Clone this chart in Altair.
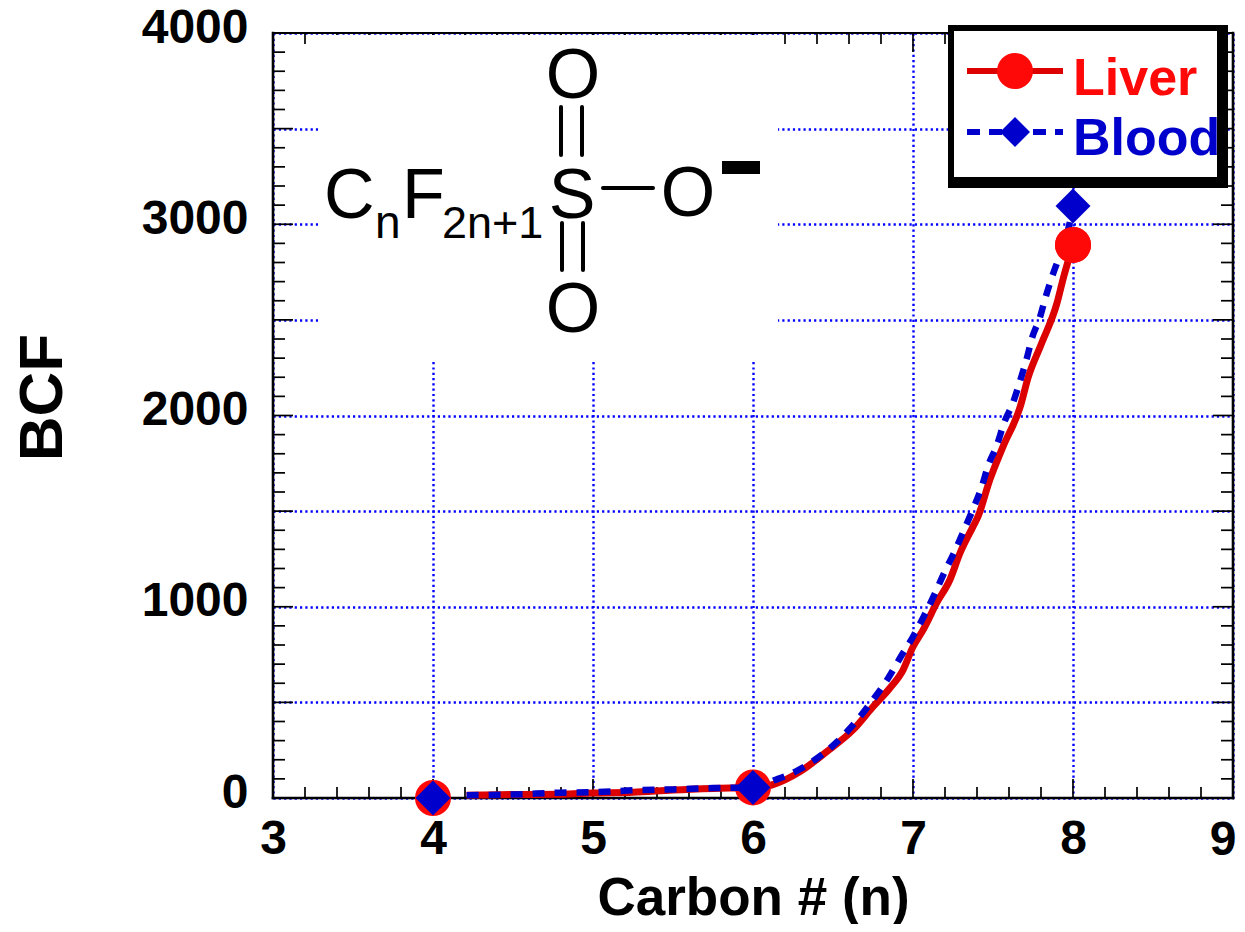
import altair as alt
import pandas as pd

FONT = "Liberation Sans"
OX, OY = 273, 33   # plot-area origin on the page

# ---- data ----
liver_x = [4.21, 4.5, 4.8, 5.0, 5.25, 5.5, 5.75, 6.0, 6.117, 6.294, 6.46, 6.625, 6.75, 6.856, 6.9375, 7.0,
           7.0625, 7.148, 7.23, 7.294, 7.375, 7.406, 7.48, 7.5625, 7.67, 7.72, 7.8, 7.9, 7.94, 8.0]
liver_y = [15, 18, 20, 26, 30, 42, 50, 55, 68, 138, 242, 356, 477, 575, 669, 791,
           878, 1020, 1140, 1281, 1419, 1471, 1663, 1837, 2046, 2200, 2370, 2588, 2720, 2892]
blood_x = [4.21, 4.5, 4.8, 5.0, 5.25, 5.5, 5.75, 6.0, 6.1375, 6.2625, 6.394, 6.525, 6.6375, 6.744, 6.8375, 6.919,
           7.0, 7.069, 7.136, 7.194, 7.26, 7.319, 7.375, 7.43, 7.469, 7.525, 7.569, 7.625, 7.669, 7.71,
           7.744, 7.794, 7.831, 7.875, 7.923, 7.969, 8.0]
blood_y = [15, 18, 28, 30, 40, 45, 52, 55, 94, 137, 204, 293, 394, 507, 617, 732,
           843, 952, 1067, 1176, 1288, 1401, 1511, 1628, 1736, 1846, 1961, 2067, 2180, 2295,
           2405, 2515, 2625, 2740, 2850, 2970, 3095]
point_x = [4, 6, 8]
liver_points = [0, 55, 2892]
blood_points = [0, 55, 3095]

x_ticks = [3, 4, 5, 6, 7, 8, 9]
y_grid = [0, 500, 1000, 1500, 2000, 2500, 3000, 3500, 4000]
x_minor = [3 + i * 0.2 for i in range(31) if i % 5 != 0]
y_minor = [i * 100 for i in range(41) if i % 5 != 0]

RED_LINE, RED_MARK, BLUE = "#dd0000", "#ff0808", "#0000cc"

xs = alt.Scale(domain=[3, 9], nice=False, zero=False)
ys = alt.Scale(domain=[0, 4000], nice=False)
X = lambda f: alt.X(f, type="quantitative", scale=xs, axis=None)
Y = lambda f: alt.Y(f, type="quantitative", scale=ys, axis=None)


def px(v):
    return alt.value(v - OX)


def py(v):
    return alt.value(v - OY)


# base layer carries the axes and the dotted grid
base = alt.Chart(pd.DataFrame({"x": x_ticks[:1], "y": y_grid[:1]})).mark_point(opacity=0).encode(
    x=alt.X("x:Q", scale=xs, title="Carbon # (n)", axis=alt.Axis(
        values=x_ticks, format="d", labelExpr="datum.value == 9 ? '' : datum.label",
        grid=True, gridColor="#0000ff", gridDash=[2.2, 3.1], gridWidth=2.4,
        ticks=False, tickSize=0, domain=False, labelFont=FONT, labelFontWeight="bold", labelFontSize=48,
        labelColor="black", labelPadding=17, labelFlush=False, labelBound=False, labelOverlap=False,
        titleFont=FONT, titleFontWeight="bold", titleFontSize=53, titleColor="black",
        titleX=480, titleY=881 - 765, titleBaseline="alphabetic", titleAnchor="middle")),
    y=alt.Y("y:Q", scale=ys, title="BCF", axis=alt.Axis(
        values=y_grid, labelExpr="datum.value % 1000 == 0 ? datum.label : ''", format="d",
        grid=True, gridColor="#0000ff", gridDash=[2.2, 3.1], gridWidth=2.4,
        ticks=False, tickSize=0, domain=False, labelFont=FONT, labelFontWeight="bold", labelFontSize=48,
        labelColor="black", labelPadding=25, labelOffset=-5, labelFlush=False, labelBound=False,
        labelOverlap=False, titleFont=FONT, titleFontWeight="bold", titleFontSize=62, titleColor="black",
        titleX=61 - OX, titleY=397 - OY, titleBaseline="alphabetic", titleAnchor="middle", titleAngle=270)),
)


def hticks(values, length, side):
    rows = []
    for v in values:
        if side == "left":
            rows.append({"a": 3.0, "b": 3.0 + length / 160, "y": v})
        else:
            rows.append({"a": 9.0 - length / 160, "b": 9.0, "y": v})
    return alt.Chart(pd.DataFrame(rows)).mark_rule(color="black", strokeWidth=1.7).encode(
        x=X("a"), x2="b", y=Y("y"))


def vticks(values, length, side):
    rows = []
    for v in values:
        if side == "bottom":
            rows.append({"x": v, "a": 0.0, "b": length / 0.19125})
        else:
            rows.append({"x": v, "a": 4000 - length / 0.19125, "b": 4000.0})
    return alt.Chart(pd.DataFrame(rows)).mark_rule(color="black", strokeWidth=1.7).encode(
        x=X("x"), y=Y("a"), y2="b")


ticks = [
    hticks(y_minor, 12, "left"), hticks(y_grid[1:-1], 20, "left"),
    hticks(y_minor, 12, "right"), hticks(y_grid[1:-1], 20, "right"),
    vticks(x_minor, 11, "bottom"), vticks(x_ticks[1:-1], 19, "bottom"),
    vticks(x_minor, 11, "top"), vticks(x_ticks[1:-1], 19, "top"),
]

one = pd.DataFrame({"k": [0]})


def rect(x0, x1, y0, y1, color):
    return alt.Chart(one).mark_rect(color=color).encode(x=px(x0), x2=px(x1), y=py(y0), y2=py(y1))


def seg(x0, x1, y0, y1, color="black", w=4, dash=None, cap="round"):
    kw = {"strokeDash": dash} if dash else {}
    return alt.Chart(one).mark_rule(color=color, strokeWidth=w, strokeCap=cap, **kw).encode(
        x=px(x0), x2=px(x1), y=py(y0), y2=py(y1))


def label(s, x, y, size, color="black", weight="normal", align="left"):
    return alt.Chart(pd.DataFrame({"t": [s]})).mark_text(
        font=FONT, fontSize=size, color=color, fontWeight=weight, align=align, baseline="alphabetic"
    ).encode(x=px(x), y=py(y), text="t:N")


mask = rect(318, 778, 35, 360, "white")

frame = [
    seg(273, 1233, 33, 33, w=2, cap="square"), seg(273, 1233, 798, 798, w=2.6, cap="square"),
    seg(273, 273, 33, 798, w=2.6, cap="square"), seg(1233, 1233, 33, 798, w=2.6, cap="square"),
]

last_tick = label("9", 1223, 855, 48, weight="bold", align="center")

formula = [
    label("C", 324, 218, 70), label("n", 375, 238, 46), label("F", 402, 218, 70), label("2n+1", 442, 238, 45),
    label("S", 572, 218, 70, align="center"), label("O", 573, 98, 70, align="center"),
    label("O", 573, 332, 70, align="center"), label("O", 688, 216, 70, align="center"),
    seg(561, 561, 107, 155), seg(582, 582, 107, 155), seg(562, 562, 223, 270), seg(583, 583, 223, 270),
    seg(603, 653, 188, 188), rect(722, 760, 161, 174, "black"),
]

liver = pd.DataFrame({"x": liver_x, "y": liver_y})
blood = pd.DataFrame({"x": blood_x, "y": blood_y})
lp = pd.DataFrame({"x": point_x, "y": liver_points})
bp = pd.DataFrame({"x": point_x, "y": blood_points})

series = [
    alt.Chart(liver).mark_line(color=RED_LINE, strokeWidth=7, interpolate="monotone").encode(x=X("x"), y=Y("y")),
    alt.Chart(lp).mark_point(shape="circle", filled=True, size=1296, color=RED_MARK, opacity=1).encode(x=X("x"), y=Y("y")),
    alt.Chart(blood).mark_line(color=BLUE, strokeWidth=6.5, strokeDash=[12, 10], interpolate="monotone").encode(x=X("x"), y=Y("y")),
    alt.Chart(bp).mark_point(shape="diamond", filled=True, size=1225, color=BLUE, opacity=1).encode(x=X("x"), y=Y("y")),
    alt.Chart(lp.tail(1)).mark_point(shape="circle", filled=True, size=1296, color=RED_MARK, opacity=1).encode(x=X("x"), y=Y("y")),
]

legend = [
    rect(948, 1228, 25, 188, "black"), rect(954, 1217, 31, 177, "white"),
    seg(967, 1063, 71, 71, RED_LINE, 6, cap="butt"),
    alt.Chart(one).mark_point(shape="circle", filled=True, size=1296, color=RED_MARK, opacity=1).encode(x=px(1015), y=py(71)),
    label("Liver", 1073, 95, 52, "#ff0808", "bold"),
    seg(967, 1063, 132, 132, BLUE, 6, dash=[13, 9], cap="butt"),
    alt.Chart(one).mark_point(shape="diamond", filled=True, size=900, color=BLUE, opacity=1).encode(x=px(1015), y=py(132)),
    label("Blood", 1073, 155, 52, BLUE, "bold"),
    rect(1217, 1228, 25, 188, "black"),
]

chart = alt.layer(base, *ticks, mask, *frame, last_tick, *formula, *series, *legend).properties(
    width=960, height=765, autosize="none",
    padding={"left": OX - 8, "top": OY - 8, "right": 4, "bottom": 126},
).resolve_scale(x="shared", y="shared").resolve_axis(x="independent", y="independent").configure_view(stroke=None).configure(background="white")

chart.save("out.html", embed_options={"renderer": "svg", "actions": False})
